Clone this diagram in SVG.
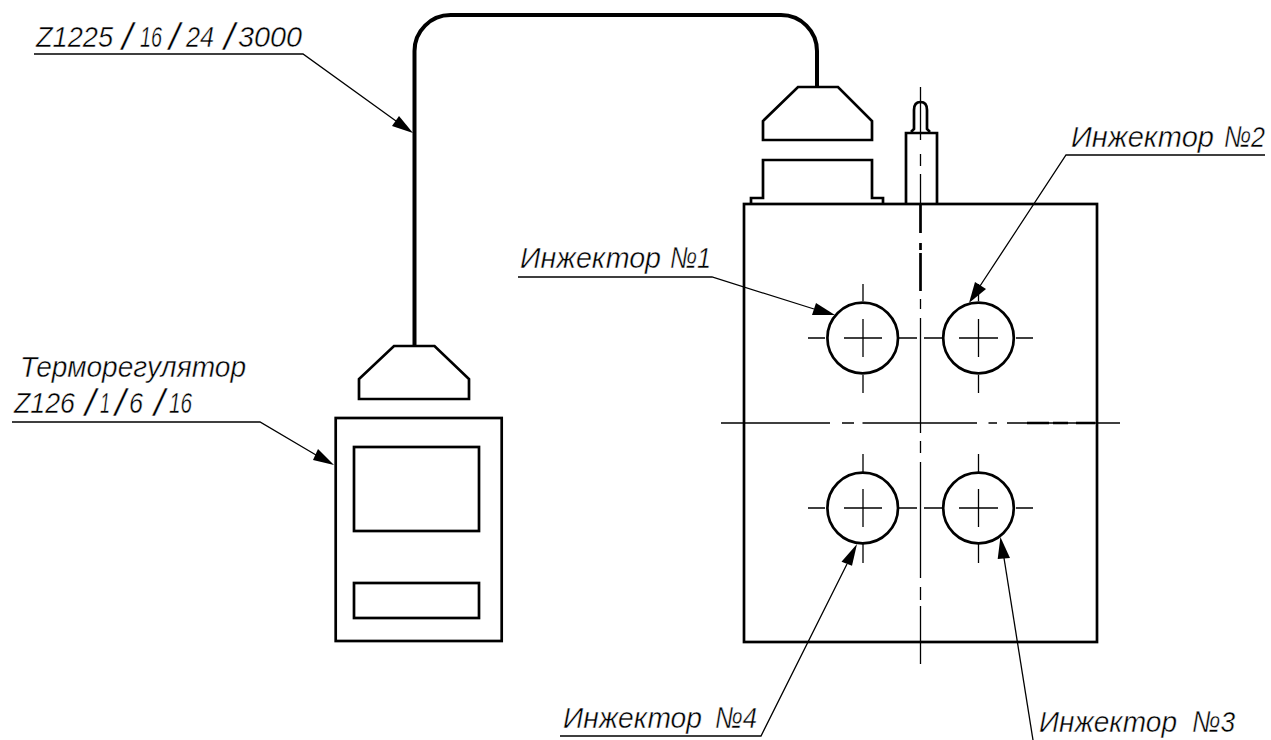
<svg xmlns="http://www.w3.org/2000/svg" width="1271" height="740" viewBox="0 0 1271 740">
<style>
.m{fill:none;stroke:#000;stroke-width:2.7}
.c{fill:none;stroke:#000;stroke-width:4}
.t{fill:none;stroke:#000;stroke-width:1.3}
.h{fill:#000;stroke:none}
text{font-family:"Liberation Sans",Arial,sans-serif;font-style:italic;font-size:30px;fill:#000;stroke:#fff;stroke-width:.45px}
.s{font-size:38px}
</style>
<rect width="1271" height="740" fill="#fff"/>
<g id="cable"><path class="c" d="M414.500 346V51a36 36 0 0 1 36-36H781a36 36 0 0 1 36 36V87"/></g>
<g id="thermoregulator">
<path class="m" d="M394 346H434.500L469 379V399H359V379Z"/>
<rect class="m" x="335.700" y="418" width="166" height="223"/>
<rect class="m" x="354" y="447" width="125" height="84"/>
<rect class="m" x="354" y="583" width="125" height="35"/>
</g>
<g id="manifold">
<path class="m" d="M798 87H838L872 121V140H763V121Z"/>
<path class="m" d="M751 204V198H763V160H872V198H883V204"/>
<path class="m" d="M906 204V133H937V204"/>
<path class="m" d="M911 132L914 129V110Q914 102 920.500 102Q927 102 927 110V129L930 132"/>
<rect class="m" x="744" y="204" width="353" height="438"/>
<path class="t" d="M920.500 87V140M920.500 154V166M920.500 174V204M920.500 299V309M920.500 318V433M920.500 441V453M920.500 462V578M920.500 587V600M920.500 606V664"/>
<path class="m" d="M920.500 205V233M920.500 243V250M920.500 253V291"/>
<path class="t" d="M721 423H830M842 423H854M862.500 423H977M988.500 423H997M1007 423H1120"/>
<path class="m" d="M1027 423H1049M1053 423H1068M1076 423H1095"/>
</g>
<g id="injector1"><circle class="m" cx="862.700" cy="338" r="35.300"/><path class="t" d="M844 338H882M863 319V357M808 338H825M899 338H917M863 284V301M863 375V393"/></g>
<g id="injector2"><circle class="m" cx="978.500" cy="338" r="35.300"/><path class="t" d="M959 338H998M978.500 319V357M924 338H942M1016 338H1033M978.500 284V301M978.500 375V393"/></g>
<g id="injector4"><circle class="m" cx="862.700" cy="508" r="35.300"/><path class="t" d="M844 508H882M863 489V527M808 508H825M899 508H917M863 454V472M863 544V563"/></g>
<g id="injector3"><circle class="m" cx="978.500" cy="508" r="35.300"/><path class="t" d="M959 508H998M978.500 489V527M924 508H942M1016 508H1033M978.500 454V472M978.500 544V563"/></g>
<g id="connectors">
<path class="t" d="M34 54H303L396 121"/><path class="h" d="M413 133L399 116L392 126Z"/>
<path class="t" d="M12 422H260L316 455"/><path class="h" d="M334 465L318 449L313 460Z"/>
<path class="t" d="M518 277H712L814 309"/><path class="h" d="M835 315L816 303L812 315Z"/>
<path class="t" d="M1265 155H1066L980 286"/><path class="h" d="M969 303L975 282L986 289Z"/>
<path class="t" d="M560 736H761L847 564"/><path class="h" d="M857 544L841.500 561.700L852 565.700Z"/>
<path class="t" d="M1033 740L1004 558"/><path class="h" d="M1000.400 537L997.700 559L1010 558Z"/>
</g>
<g id="labels">
<text y="46.500"><tspan x="36" textLength="77" lengthAdjust="spacingAndGlyphs">Z1225</tspan><tspan class="s" x="122" y="50">/</tspan><tspan x="140" y="46.500" textLength="22" lengthAdjust="spacingAndGlyphs">16</tspan><tspan class="s" x="169" y="50">/</tspan><tspan x="186" y="46.500" textLength="28" lengthAdjust="spacingAndGlyphs">24</tspan><tspan class="s" x="224" y="50">/</tspan><tspan x="238" y="46.500" textLength="64" lengthAdjust="spacingAndGlyphs">3000</tspan></text>
<text x="20" y="377" textLength="226" lengthAdjust="spacingAndGlyphs">Терморегулятор</text>
<text y="413"><tspan x="14" textLength="61" lengthAdjust="spacingAndGlyphs">Z126</tspan><tspan class="s" x="85" y="416">/</tspan><tspan x="100" y="413" textLength="10" lengthAdjust="spacingAndGlyphs">1</tspan><tspan class="s" x="115" y="416">/</tspan><tspan x="129" y="413" textLength="14" lengthAdjust="spacingAndGlyphs">6</tspan><tspan class="s" x="154" y="416">/</tspan><tspan x="169" y="413" textLength="23" lengthAdjust="spacingAndGlyphs">16</tspan></text>
<text y="268"><tspan x="520" textLength="141" lengthAdjust="spacingAndGlyphs">Инжектор</tspan> <tspan x="670" textLength="41" lengthAdjust="spacingAndGlyphs">№1</tspan></text>
<text y="147"><tspan x="1071" textLength="143" lengthAdjust="spacingAndGlyphs">Инжектор</tspan> <tspan x="1224" textLength="41" lengthAdjust="spacingAndGlyphs">№2</tspan></text>
<text y="728"><tspan x="563" textLength="139" lengthAdjust="spacingAndGlyphs">Инжектор</tspan> <tspan x="715" textLength="42" lengthAdjust="spacingAndGlyphs">№4</tspan></text>
<text y="732"><tspan x="1039" textLength="138" lengthAdjust="spacingAndGlyphs">Инжектор</tspan> <tspan x="1192" textLength="43" lengthAdjust="spacingAndGlyphs">№3</tspan></text>
</g>
</svg>
